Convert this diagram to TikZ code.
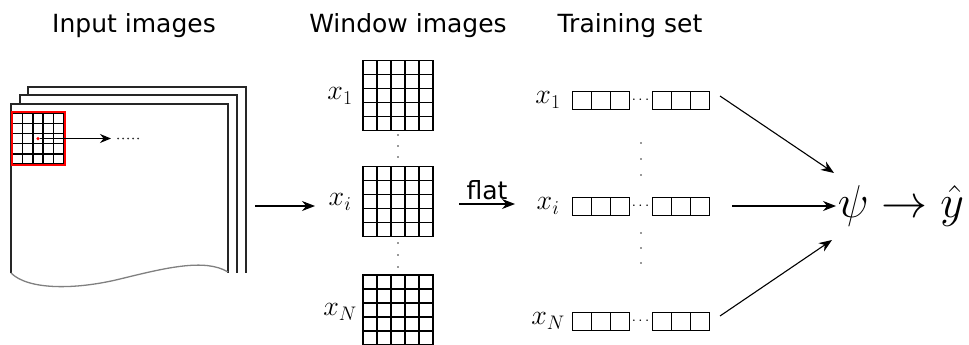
\documentclass[tikz,border=0pt]{standalone}
\usepackage{fix-cm}
\usepackage{fontspec}
\setsansfont{DejaVu Sans}
\usetikzlibrary{arrows.meta,calc}
\begin{document}
\begin{tikzpicture}[x=1pt,y=-1pt,
  title/.style={font=\sffamily\fontsize{25}{28}\selectfont, anchor=base, inner sep=0pt},
  lab/.style={font=\fontsize{28}{32}\selectfont, inner sep=0pt},
  gl/.style={line width=1.4pt},
  pageline/.style={line width=1.3pt, draw=black!85, fill=white},
  arr/.style={line width=1.1pt, -{Stealth[length=13pt,width=10pt]}},
  wgrid/.style={draw, gl, minimum width=70pt, minimum height=70pt, inner sep=0pt,
    path picture={
      \foreach \k in {1,...,4}{
        \draw[gl] ($(path picture bounding box.south west)!\k/5!(path picture bounding box.south east)$) --
                  ($(path picture bounding box.north west)!\k/5!(path picture bounding box.north east)$);
        \draw[gl] ($(path picture bounding box.south west)!\k/5!(path picture bounding box.north west)$) --
                  ($(path picture bounding box.south east)!\k/5!(path picture bounding box.north east)$);
      }}},
  rowcells/.style={draw, line width=1pt, minimum width=57pt, minimum height=18pt, inner sep=0pt,
    path picture={
      \foreach \k in {1,2}{
        \draw[line width=1pt] ($(path picture bounding box.south west)!\k/3!(path picture bounding box.south east)$) --
                  ($(path picture bounding box.north west)!\k/3!(path picture bounding box.north east)$);
      }}},
  smalldot/.style={fill=black!80, circle, inner sep=0pt, minimum size=1.8pt}
]
\useasboundingbox (0,0) rectangle (969,345);

% titles
\node[title] (tin) at (134,33) {Input images};
\node[title] (twin) at (408,33) {Window images};
\node[title] (ttr) at (630,33) {Training set};

% input pages
\draw[pageline] (28,273) -- (28,87) -- (246,87) -- (246,273);
\draw[pageline] (20,273) -- (20,95) -- (237,95) -- (237,273);
\fill[white] (11,104) rectangle (228,273);
\draw[line width=1.3pt, draw=black!85] (11,273) -- (11,104) -- (228,104) -- (228,273);
\draw[line width=1.3pt, draw=black!50] (11,273) .. controls (28,290) and (75,290) .. (120,279)
   .. controls (165,268) and (205,258) .. (228,272);

% red window in input image
\foreach \k in {0,...,5}{
  \draw[gl] ({12.5+\k*10.2},113) -- ({12.5+\k*10.2},164);
  \draw[gl] (12.5,{113+\k*10.2}) -- (63.5,{113+\k*10.2});
}
\node[draw=red, line width=2pt, minimum width=53pt, minimum height=53pt, inner sep=0pt] (redwin) at (38,138.5) {};
\node[fill=red, circle, inner sep=0pt, minimum size=3.5pt] (rdot) at (38,138.5) {};
\coordinate (rend) at (111,138.5);
\draw[line width=1.1pt, -{Stealth[length=11pt,width=9pt]}] (rdot) -- (rend);
\foreach \k in {0,...,4}{ \node[smalldot, minimum size=2pt] (rd\k) at ({118+\k*5},138.5) {}; }

% window images
\node[wgrid] (w1) at (398,95.5) {};
\node[wgrid] (wi) at (398,201.5) {};
\node[wgrid] (wN) at (398,310) {};
\node[lab] (lw1) at (340,96) {$x_1$};
\node[lab] (lwi) at (340,202) {$x_i$};
\node[lab] (lwN) at (340,312) {$x_N$};
\foreach \y [count=\c] in {135,146,157}{ \node[smalldot] (da\c) at (398,\y) {}; }
\foreach \y [count=\c] in {243,255,267}{ \node[smalldot] (db\c) at (398,\y) {}; }

% arrow from input to window
\coordinate (inR) at (255,206);
\coordinate (inE) at (315,206);
\draw[arr] (inR) -- (inE);

% flat arrow
\coordinate (fs) at (459,204);
\coordinate (fe) at (515,204);
\draw[arr] (fs) -- (fe) node[midway, above=4pt, font=\sffamily\fontsize{25}{28}\selectfont, inner sep=0pt] (flat) {flat};

% training set
\foreach \n/\y/\t in {1/100/x_1, i/206/x_i, N/321/x_N}{
  \node[lab] (lt\n) at (548,\y) {$\t$};
  \node[rowcells] (ca\n) at (601,\y) {};
  \node[rowcells] (cb\n) at (680.5,\y) {};
  \node[inner sep=0pt, font=\fontsize{15}{18}\selectfont] (cd\n) at (640.5,\y) {$\cdots$};
}
\foreach \y [count=\c] in {143,159,175}{ \node[smalldot] (ta\c) at (641,\y) {}; }
\foreach \y [count=\c] in {233,248,263}{ \node[smalldot] (tb\c) at (641,\y) {}; }

% psi -> yhat
\node[inner sep=0pt, font=\fontsize{46}{50}\selectfont] (out) at (901,206) {$\psi \rightarrow \hat{y}$};
\coordinate (p1) at (834,173);
\coordinate (p2) at (836,206);
\coordinate (p3) at (832,240);
\coordinate (s1) at (720,96);
\coordinate (s2) at (732,206);
\coordinate (s3) at (720,316);
\draw[arr] (s1) -- (p1);
\draw[arr] (s2) -- (p2);
\draw[arr] (s3) -- (p3);
\end{tikzpicture}
\end{document}
